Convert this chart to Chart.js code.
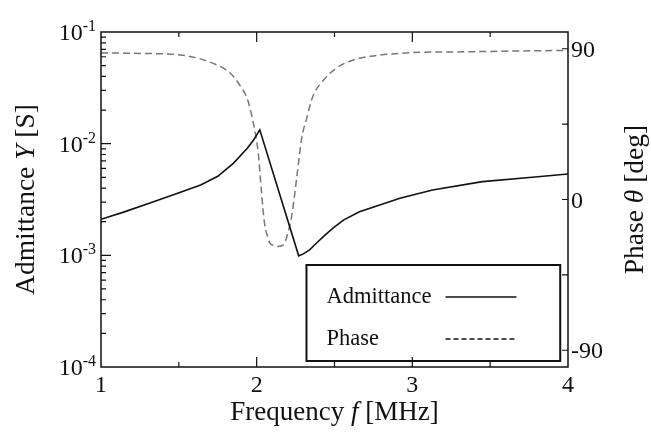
<!DOCTYPE html>
<html lang="en">
  <head>
    <meta charset="UTF-8" />
    <title>Admittance and phase vs. frequency</title>
    <script src="https://cdn.jsdelivr.net/npm/chart.js@4.4.0/dist/chart.umd.min.js"></script>
    <style>
      body { margin: 0; background: #fff; }
      #wrap { width: 651px; height: 432px; }
    </style>
  </head>
  <body>
    <div id="wrap">
      <canvas id="myChart" width="651" height="432"></canvas>
    </div>

    <script>
      // measured admittance |Y| [S]
      var admFreq = [1.0, 1.15, 1.31, 1.47, 1.64, 1.75, 1.85, 1.94, 1.98, 2.02,
        2.27, 2.30, 2.34, 2.38, 2.43, 2.49, 2.56, 2.66, 2.80, 2.92, 3.13, 3.45, 3.77, 4.0];
      var admValue = [2.1e-3, 2.45e-3, 2.92e-3, 3.5e-3, 4.27e-3, 5.1e-3, 6.67e-3, 9.1e-3, 1.08e-2, 1.33e-2,
        0.99e-3, 1.03e-3, 1.12e-3, 1.27e-3, 1.48e-3, 1.75e-3, 2.08e-3, 2.46e-3, 2.85e-3, 3.24e-3, 3.85e-3, 4.57e-3, 5.0e-3, 5.35e-3];

      // measured phase [deg]
      var phaseFreq = [1.0, 1.25, 1.51, 1.72, 1.83, 1.90, 1.94, 1.98, 2.01, 2.03,
        2.05, 2.07, 2.085, 2.11, 2.14, 2.18, 2.20, 2.225, 2.256, 2.29,
        2.32, 2.36, 2.43, 2.51, 2.62, 2.75, 2.98, 3.35, 3.70, 4.0];
      var phaseValue = [87.6, 87.2, 86.3, 81.3, 75.5, 67, 60, 45, 27.8, 5.7,
        -14, -22, -26, -27.5, -28, -26, -20, -10, 12, 37,
        48, 61.4, 71.3, 78.3, 83.3, 85.7, 87.6, 88.2, 88.7, 89.0];

      // axis ticks
      var freqTicks = [1.5, 2, 2.5, 3, 3.5];
      var freqLabels = [1, 2, 3, 4];
      var admDecades = [-4, -3, -2, -1];
      var phaseTicks = [-90, -45, 0, 45, 90];
      var phaseLabels = [-90, 0, 90];

      var serif = '"Liberation Serif", "Times New Roman", serif';

      function toPoints(xs, ys) {
        return xs.map(function (x, i) {
          return { x: x, y: ys[i] };
        });
      }

      // draws a run of text pieces, some italic, centred on x
      function drawParts(ctx, parts, x, y, size) {
        var total = 0;
        parts.forEach(function (p) {
          ctx.font = (p.it ? "italic " : "") + size + "px " + serif;
          p.w = ctx.measureText(p.t).width;
          total += p.w;
        });
        var cx = x - total / 2;
        parts.forEach(function (p) {
          ctx.font = (p.it ? "italic " : "") + size + "px " + serif;
          ctx.fillText(p.t, cx, y);
          cx += p.w;
        });
      }

      var framePlugin = {
        id: "frame",
        afterDatasetsDraw: function (chart) {
          var ctx = chart.ctx;
          var a = chart.chartArea;
          var sx = chart.scales.x;
          var sy = chart.scales.y;
          var sp = chart.scales.y2;
          ctx.save();
          ctx.strokeStyle = "#111";
          ctx.fillStyle = "#111";
          ctx.textAlign = "left";
          ctx.textBaseline = "alphabetic";

          // legend box
          var lx = sx.getPixelForValue(2.32);
          var lr = sx.getPixelForValue(3.95);
          var lt = 265, lb = 361;
          ctx.fillStyle = "#fff";
          ctx.fillRect(lx, lt, lr - lx, lb - lt);
          ctx.fillStyle = "#111";
          ctx.lineWidth = 2;
          ctx.strokeRect(lx, lt, lr - lx, lb - lt);
          ctx.font = "22.5px " + serif;
          chart.data.datasets.forEach(function (ds, i) {
            var ty = lt + 38 + i * 42;
            ctx.fillText(ds.label, lx + 20, ty);
            ctx.beginPath();
            ctx.lineWidth = 1.5;
            ctx.strokeStyle = "#111";
            ctx.setLineDash(ds.borderDash ? [5, 3] : []);
            ctx.moveTo(lx + 139, ty - 6);
            ctx.lineTo(lx + 210, ty - 6);
            ctx.stroke();
            ctx.setLineDash([]);
          });

          // frame
          ctx.lineWidth = 1.5;
          ctx.strokeRect(a.left, a.top, a.right - a.left, a.bottom - a.top);

          // inward ticks
          ctx.beginPath();
          ctx.lineWidth = 1.2;
          freqTicks.forEach(function (f) {
            var px = sx.getPixelForValue(f);
            var len = f % 1 === 0 ? 10 : 5;
            ctx.moveTo(px, a.bottom);
            ctx.lineTo(px, a.bottom - len);
            ctx.moveTo(px, a.top);
            ctx.lineTo(px, a.top + len);
          });
          admDecades.forEach(function (d, i) {
            if (i > 0 && i < admDecades.length - 1) {
              var py = sy.getPixelForValue(Math.pow(10, d));
              ctx.moveTo(a.left, py);
              ctx.lineTo(a.left + 10, py);
            }
            if (i < admDecades.length - 1) {
              for (var m = 2; m <= 9; m++) {
                var pm = sy.getPixelForValue(m * Math.pow(10, d));
                ctx.moveTo(a.left, pm);
                ctx.lineTo(a.left + 5, pm);
              }
            }
          });
          phaseTicks.forEach(function (p) {
            var py = sp.getPixelForValue(p);
            ctx.moveTo(a.right, py);
            ctx.lineTo(a.right - 6, py);
          });
          ctx.stroke();

          // tick labels
          ctx.textAlign = "center";
          ctx.font = "24px " + serif;
          freqLabels.forEach(function (f) {
            ctx.fillText(String(f), sx.getPixelForValue(f), a.bottom + 25);
          });
          admDecades.forEach(function (d) {
            var py = sy.getPixelForValue(Math.pow(10, d));
            ctx.textAlign = "right";
            ctx.font = "16px " + serif;
            var sup = String(d);
            var sw = ctx.measureText(sup).width;
            ctx.fillText(sup, a.left - 5, py - 1);
            ctx.font = "24px " + serif;
            ctx.fillText("10", a.left - 5 - sw, py + 8);
          });
          ctx.textAlign = "left";
          ctx.font = "24px " + serif;
          phaseLabels.forEach(function (p) {
            ctx.fillText(String(p), a.right + 3, sp.getPixelForValue(p) + 8);
          });

          // axis titles
          drawParts(ctx, [
            { t: "Frequency ", it: false },
            { t: "f", it: true },
            { t: " [MHz]", it: false }
          ], (a.left + a.right) / 2, 420, 27);

          ctx.save();
          ctx.translate(34, (a.top + a.bottom) / 2);
          ctx.rotate(-Math.PI / 2);
          drawParts(ctx, [
            { t: "Admittance ", it: false },
            { t: "Y", it: true },
            { t: " [S]", it: false }
          ], 0, 0, 27.5);
          ctx.restore();

          ctx.save();
          ctx.translate(643, (a.top + a.bottom) / 2);
          ctx.rotate(-Math.PI / 2);
          drawParts(ctx, [
            { t: "Phase ", it: false },
            { t: "\u03b8", it: true },
            { t: " [deg]", it: false }
          ], 0, 0, 27.5);
          ctx.restore();

          ctx.restore();
        }
      };

      var ctx = document.getElementById("myChart").getContext("2d");
      var myChart = new Chart(ctx, {
        type: "line",
        data: {
          datasets: [
            {
              label: "Admittance",
              data: toPoints(admFreq, admValue),
              yAxisID: "y",
              borderColor: "#111",
              borderWidth: 1.6,
              pointRadius: 0,
              tension: 0
            },
            {
              label: "Phase",
              data: toPoints(phaseFreq, phaseValue),
              yAxisID: "y2",
              borderColor: "#777",
              borderWidth: 1.5,
              borderDash: [7, 4],
              pointRadius: 0,
              cubicInterpolationMode: "monotone"
            }
          ]
        },
        options: {
          responsive: false,
          animation: false,
          devicePixelRatio: 1,
          layout: { padding: { left: 101, right: 83, top: 32, bottom: 65 } },
          plugins: {
            legend: { display: false },
            tooltip: { enabled: false }
          },
          scales: {
            x: { type: "linear", min: 1, max: 4, display: false },
            y: { type: "logarithmic", min: 1e-4, max: 1e-1, display: false },
            y2: { type: "linear", min: -100, max: 100, display: false, position: "right" }
          }
        },
        plugins: [framePlugin]
      });
    </script>
  </body>
</html>
